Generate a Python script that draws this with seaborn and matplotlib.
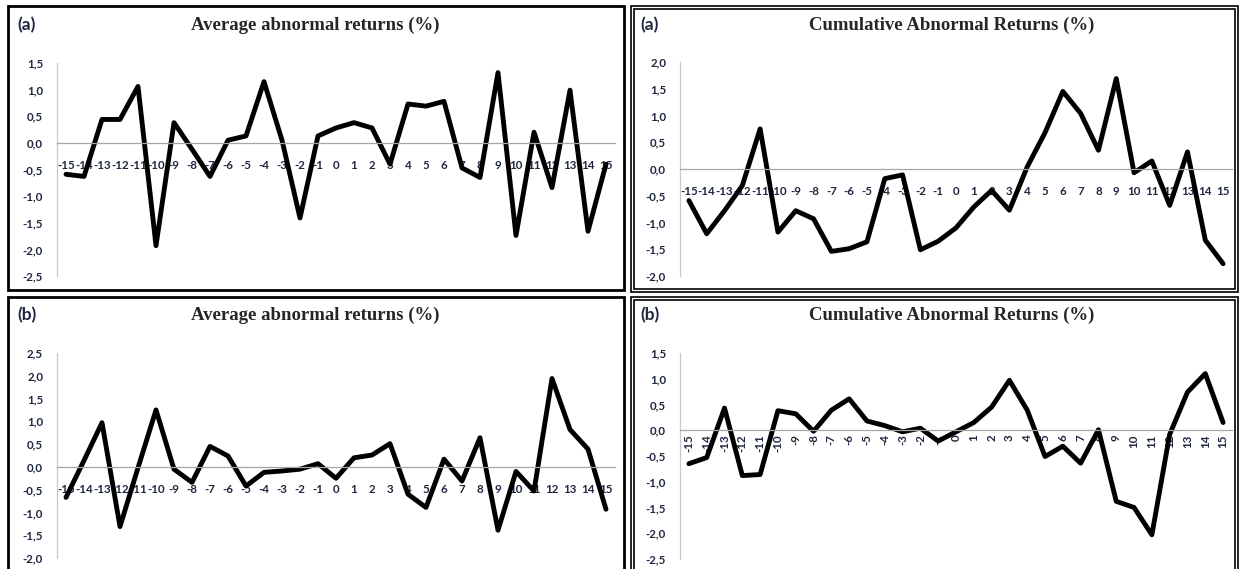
"""
Four-panel event-study figure: average and cumulative abnormal returns
around day 0, for sample (a) and sample (b), drawn in an Excel-like style.
"""

import matplotlib

matplotlib.use("Agg")
import matplotlib.pyplot as plt
import numpy as np
import pandas as pd
import seaborn as sns
from matplotlib.patches import Rectangle

W, H = 1240, 569

days = list(range(-15, 16))

aar_a = [-0.59, -0.63, 0.44, 0.44, 1.06, -1.93, 0.38, -0.12, -0.63, 0.05, 0.13,
         1.15, 0.05, -1.41, 0.13, 0.28, 0.38, 0.28, -0.40, 0.73, 0.69, 0.78,
         -0.47, -0.65, 1.32, -1.74, 0.20, -0.84, 0.99, -1.66, -0.40]
car_a = [-0.59, -1.21, -0.78, -0.31, 0.75, -1.18, -0.78, -0.93, -1.54, -1.49, -1.36,
         -0.18, -0.11, -1.51, -1.35, -1.10, -0.71, -0.40, -0.77, 0.04, 0.68, 1.45,
         1.04, 0.35, 1.69, -0.07, 0.15, -0.68, 0.32, -1.33, -1.77]
aar_b = [-0.67, 0.14, 0.97, -1.31, -0.02, 1.25, -0.05, -0.34, 0.45, 0.24, -0.42,
         -0.12, -0.09, -0.05, 0.07, -0.25, 0.20, 0.26, 0.51, -0.60, -0.89, 0.17,
         -0.31, 0.64, -1.39, -0.10, -0.53, 1.94, 0.82, 0.39, -0.93]
car_b = [-0.65, -0.53, 0.43, -0.88, -0.86, 0.38, 0.32, -0.02, 0.39, 0.61, 0.18,
         0.09, -0.03, 0.04, -0.21, -0.03, 0.15, 0.45, 0.97, 0.39, -0.51, -0.31,
         -0.64, 0.01, -1.38, -1.50, -2.03, -0.08, 0.74, 1.10, 0.15]

aar_title = "Average abnormal returns (%)"
car_title = "Cumulative Abnormal Returns (%)"

LABEL_COLOR = "#1d2740"
AXIS_COLOR = "#a6a6a6"
TICK_FONT = "Lato"


def px_rect(x0, x1, ytop, ybot):
    """Convert a pixel box (origin top-left) into figure fractions."""
    return [x0 / W, 1 - ybot / H, (x1 - x0) / W, (ybot - ytop) / H]


def comma(v):
    return f"{v:.1f}".replace(".", ",")


def draw_panel(fig, rect, values, ylo, yhi, rotate=False):
    ax = fig.add_axes(px_rect(*rect))
    df = pd.DataFrame({"day": days, "value": values})
    sns.lineplot(data=df, x="day", y="value", ax=ax, color="black",
                 linewidth=3.5, solid_joinstyle="round", solid_capstyle="round")
    ax.set_xlim(-15.5, 15.5)
    ax.set_ylim(ylo, yhi)
    ax.set_xlabel("")
    ax.set_ylabel("")
    ax.set_facecolor("none")

    for side in ("top", "right"):
        ax.spines[side].set_visible(False)
    ax.spines["left"].set_color("#c8c8c8")
    ax.spines["left"].set_linewidth(0.9)
    ax.spines["bottom"].set_position(("data", 0))
    ax.spines["bottom"].set_color(AXIS_COLOR)
    ax.spines["bottom"].set_linewidth(0.9)

    # category boundaries carry the tick marks, labels sit on the categories
    ax.set_xticks(np.arange(-15.5, 16, 1.0))
    ax.set_xticklabels([])
    ax.set_xticks(days, minor=True)
    ax.set_xticklabels([str(d) for d in days], minor=True,
                       rotation=90 if rotate else 0,
                       va="top", ha="center")
    ax.tick_params(axis="x", which="major", direction="out", length=4,
                   width=0.8, color=AXIS_COLOR)
    ax.tick_params(axis="x", which="minor", length=0,
                   pad=3 if rotate else 12)

    yt = np.arange(ylo, yhi + 0.01, 0.5)
    ax.set_yticks(yt)
    ax.set_yticklabels([comma(v) for v in yt])
    ax.tick_params(axis="y", direction="out", length=4, width=0.8,
                   color="#c8c8c8", pad=6)

    for lab in ax.get_xticklabels(minor=True) + ax.get_yticklabels():
        lab.set_fontfamily(TICK_FONT)
        lab.set_fontweight("bold")
        lab.set_fontsize(8.3)
        lab.set_color(LABEL_COLOR)
    ax.grid(False)
    return ax


def add_box(fig, x0, x1, ytop, ybot, double=False):
    x, y, w, h = px_rect(x0, x1, ytop, ybot)
    fig.patches.append(Rectangle((x, y), w, h, transform=fig.transFigure,
                                 fill=False, edgecolor="black",
                                 linewidth=1.2 if double else 2.0))
    if double:
        d = 3
        x, y, w, h = px_rect(x0 + d, x1 - d, ytop + d, ybot - d)
        fig.patches.append(Rectangle((x, y), w, h, transform=fig.transFigure,
                                     fill=False, edgecolor="black", linewidth=1.2))


def add_titles(fig, cx, cy, label_x, tag, title):
    fig.text(cx / W, 1 - cy / H, title, ha="center", va="center",
             family="Liberation Serif", fontweight="bold", fontsize=13.5)
    fig.text(label_x / W, 1 - cy / H, tag, ha="left", va="center",
             family=TICK_FONT, fontweight="bold", fontsize=12.5,
             color=LABEL_COLOR)


def main():
    sns.set_theme(style="white")
    fig = plt.figure(figsize=(W / 100, H / 100), dpi=100)
    fig.patch.set_facecolor("white")

    add_box(fig, 8, 624, 6, 290)
    add_box(fig, 631, 1238, 6, 292, double=True)
    add_box(fig, 8, 624, 297, 590)
    add_box(fig, 631, 1238, 297, 590, double=True)

    draw_panel(fig, (57, 615, 63, 276), aar_a, -2.5, 1.5)
    draw_panel(fig, (680, 1232, 62, 276), car_a, -2.0, 2.0)
    draw_panel(fig, (57, 615, 353, 558), aar_b, -2.0, 2.5)
    draw_panel(fig, (680, 1232, 353, 559), car_b, -2.5, 1.5, rotate=True)

    add_titles(fig, 315, 25, 17, "(a)", aar_title)
    add_titles(fig, 952, 25, 640, "(a)", car_title)
    add_titles(fig, 315, 315, 17, "(b)", aar_title)
    add_titles(fig, 952, 315, 640, "(b)", car_title)

    fig.savefig("out.png", dpi=100)


if __name__ == "__main__":
    main()
